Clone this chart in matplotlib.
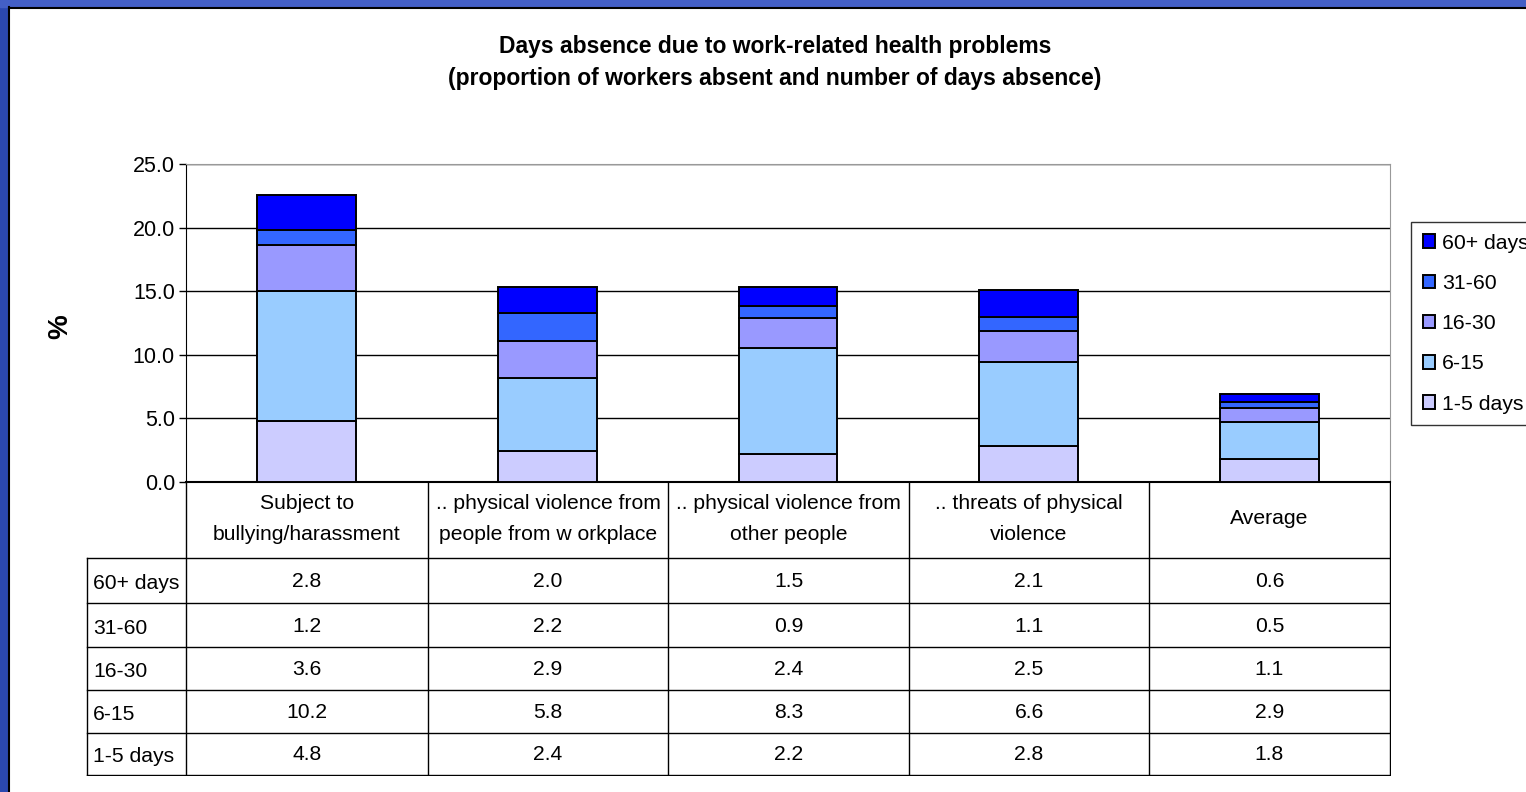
import matplotlib
matplotlib.use("Agg")
import matplotlib.pyplot as plt
from matplotlib.patches import Rectangle, Patch
import numpy as np

plt.rcParams['font.family'] = ['Liberation Sans', 'DejaVu Sans']

categories = ["Subject to\nbullying/harassment",
              ".. physical violence from\npeople from w orkplace",
              ".. physical violence from\nother people",
              ".. threats of physical\nviolence",
              "Average"]
series_names = ["60+ days", "31-60", "16-30", "6-15", "1-5 days"]
v_60plus = [2.8, 2.0, 1.5, 2.1, 0.6]
v_31_60 = [1.2, 2.2, 0.9, 1.1, 0.5]
v_16_30 = [3.6, 2.9, 2.4, 2.5, 1.1]
v_6_15 = [10.2, 5.8, 8.3, 6.6, 2.9]
v_1_5 = [4.8, 2.4, 2.2, 2.8, 1.8]
yticks = [0, 5, 10, 15, 20, 25]

table_rows = [v_60plus, v_31_60, v_16_30, v_6_15, v_1_5]
colors = ['#0000FF', '#3366FF', '#9999FF', '#99CCFF', '#CCCCFF']

W, H = 1526, 792
fig = plt.figure(figsize=(W/100, H/100), dpi=100)

def rect(x0, y0, x1, y1):
    return [x0/W, 1 - y1/H, (x1-x0)/W, (y1-y0)/H]

# frame
fig.patches.append(Rectangle((0, 0), 8/W, 1, transform=fig.transFigure, color='#2B48B0', zorder=0))
fig.patches.append(Rectangle((0, 1-7/H), 1, 7/H, transform=fig.transFigure, color='#435FC6', zorder=0))
fig.lines.append(plt.Line2D([8.5/W, 8.5/W], [0, 1-7/H], transform=fig.transFigure, color='black', lw=1.5))
fig.lines.append(plt.Line2D([8.5/W, 1], [1-7.5/H, 1-7.5/H], transform=fig.transFigure, color='black', lw=1.5))

# bars
ax = fig.add_axes(rect(186, 164, 1390, 482))
x = np.arange(len(categories))
stack_bottom_up = [(v_1_5, colors[4]), (v_6_15, colors[3]), (v_16_30, colors[2]),
                   (v_31_60, colors[1]), (v_60plus, colors[0])]
bottom = np.zeros(len(categories))
for vals, c in stack_bottom_up:
    ax.bar(x, vals, bottom=bottom, width=0.41, color=c, edgecolor='black', lw=1.4, zorder=3)
    bottom += np.array(vals)
ax.set_xlim(-0.5, len(categories) - 0.5)
ax.set_ylim(0, 25)
ax.set_yticks(yticks)
ax.set_yticklabels([f"{t:.1f}" for t in yticks], fontsize=15.5)
ax.set_xticks([])
ax.yaxis.grid(True, color='black', lw=1)
ax.set_axisbelow(True)
ax.tick_params(axis='y', direction='out', length=5, width=1, pad=3)
for s in ['top', 'right']:
    ax.spines[s].set_color('#999999')
ax.spines['left'].set_color('black')
ax.spines['bottom'].set_color('black')
ax.spines['bottom'].set_linewidth(1.5)
ax.set_ylabel('%', fontsize=20, fontweight='bold')
ax.yaxis.set_label_coords(-113/1204, 0.49)

fig.text(775/W, 1 - 46/H, "Days absence due to work-related health problems",
         ha='center', va='center', fontsize=16.5, fontweight='bold')
fig.text(775/W, 1 - 79/H, "(proportion of workers absent and number of days absence)",
         ha='center', va='center', fontsize=16.5, fontweight='bold')

# table
tax = fig.add_axes(rect(86, 481, 1391, 776))
tax.set_xlim(86, 1391)
tax.set_ylim(776, 481)
tax.axis('off')
col_edges = [186, 428, 668, 909, 1149, 1390]
row_edges = [558, 603, 647, 690, 733, 775]
lk = dict(color='black', lw=1)
for cx in col_edges:
    tax.plot([cx, cx], [482, 775], **lk)
tax.plot([87, 87], [558, 775], **lk)
for ry in row_edges:
    tax.plot([87, 1390], [ry, ry], **lk)
fs = 15.2
for i, cat in enumerate(categories):
    cx = (col_edges[i] + col_edges[i+1]) / 2
    tax.text(cx, 519, cat, ha='center', va='center', fontsize=fs, linespacing=1.85)
for r, (name, vals) in enumerate(zip(series_names, table_rows)):
    cy = (row_edges[r] + row_edges[r+1]) / 2
    tax.text(93, cy + 3, name, ha='left', va='center', fontsize=fs)
    for i, v in enumerate(vals):
        cx = (col_edges[i] + col_edges[i+1]) / 2
        tax.text(cx, cy + 1, f"{v:.1f}", ha='center', va='center', fontsize=fs)

# legend
handles = [Patch(facecolor=c, edgecolor='black', lw=1.4, label=n) for c, n in zip(colors, series_names)]
leg = fig.legend(handles=handles, loc='upper left', bbox_to_anchor=(1411/W, 1 - 222/H),
                 fontsize=15.3, frameon=True, fancybox=False, edgecolor='black',
                 handlelength=0.6, handleheight=0.6, handletextpad=0.3,
                 labelspacing=1.0, borderpad=0.55, borderaxespad=0)
leg.get_frame().set_linewidth(1)

fig.savefig('out.png', dpi=100, facecolor='white')
